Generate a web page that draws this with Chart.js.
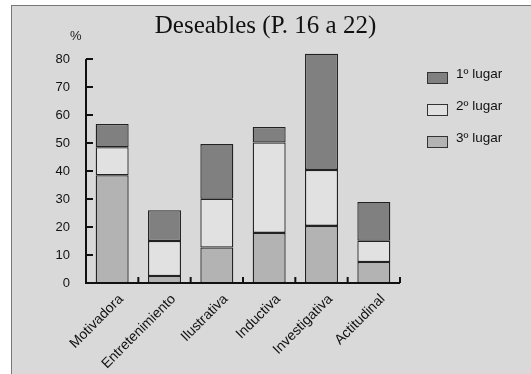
<!DOCTYPE html>
<html>
<head>
<meta charset="utf-8">
<title>Deseables (P. 16 a 22)</title>
<style>
    body {
        margin: 0;
        background: #ffffff;
    }
    #wrap {
        position: relative;
        width: 531px;
        height: 374px;
        overflow: hidden;
    }
    #frame {
        position: absolute;
        left: 11px;
        top: 5px;
        width: 530px;
        height: 380px;
        background: #d9d9d9;
        border: 1px solid #777;
    }
    canvas {
        position: absolute;
        left: 0;
        top: 0;
    }
    #title {
        position: absolute;
        left: 0;
        width: 531px;
        top: 11px;
        text-align: center;
        font-family: "Liberation Serif", "DejaVu Serif", serif;
        font-size: 25px;
        color: #111;
    }
    #pct {
        position: absolute;
        left: 70px;
        top: 28px;
        font-family: "Liberation Sans", Arial, sans-serif;
        font-size: 13px;
        color: #222;
    }
    #legend {
        position: absolute;
        left: 427px;
        top: 66px;
        font-family: "Liberation Sans", Arial, sans-serif;
        font-size: 13.5px;
        color: #111;
    }
    .item {
        height: 32px;
        display: flex;
        align-items: flex-start;
    }
    .box {
        width: 19px;
        height: 10px;
        border: 1px solid #333;
        margin-top: 6px;
        margin-right: 8px;
    }
</style>
<script src="https://cdn.jsdelivr.net/npm/chart.js"></script>
</head>
<body>
<div id="wrap">
    <div id="frame"></div>
    <canvas id="chart" width="531" height="374"></canvas>
    <div id="title">Deseables (P. 16 a 22)</div>
    <div id="pct">%</div>
    <div id="legend"></div>
</div>
<script>
    const categories = ['Motivadora', 'Entretenimiento', 'Ilustrativa', 'Inductiva', 'Investigativa', 'Actitudinal'];
    const tercero = [38.5, 2.5, 12.7, 17.9, 20.4, 7.5];
    const segundo = [10.0, 12.5, 17.4, 32.3, 20.0, 7.6];
    const primero = [8.3, 11.0, 19.5, 5.5, 41.5, 13.8];
    const yTicks = [0, 10, 20, 30, 40, 50, 60, 70, 80];

    const seriesNames = ['1º lugar', '2º lugar', '3º lugar'];
    const seriesColors = ['#808080', '#e1e1e1', '#b3b3b3'];

    // ejes dibujados a mano: linea gruesa y marcas hacia dentro
    const axesPlugin = {
        id: 'axes',
        afterDatasetsDraw(chart) {
            const ctx = chart.ctx;
            const x = chart.scales.x;
            const y = chart.scales.y;
            const y0 = y.getPixelForValue(0);
            const yTop = y.getPixelForValue(80);
            ctx.save();
            ctx.strokeStyle = '#111';
            ctx.lineWidth = 2;
            ctx.beginPath();
            ctx.moveTo(x.left, yTop);
            ctx.lineTo(x.left, y0);
            ctx.lineTo(x.right, y0);
            ctx.stroke();
            ctx.beginPath();
            yTicks.forEach(v => {
                const py = y.getPixelForValue(v);
                ctx.moveTo(x.left, py);
                ctx.lineTo(x.left + 7, py);
            });
            for (let i = 1; i <= categories.length; i++) {
                const px = x.getPixelForValue(i - 0.5);
                ctx.moveTo(px, y0);
                ctx.lineTo(px, y0 - 6);
            }
            ctx.stroke();
            ctx.restore();
        }
    };

    const ctx = document.getElementById('chart').getContext('2d');
    const myChart = new Chart(ctx, {
        type: 'bar',
        data: {
            labels: categories,
            datasets: [
                { label: seriesNames[2], data: tercero, backgroundColor: seriesColors[2] },
                { label: seriesNames[1], data: segundo, backgroundColor: seriesColors[1] },
                { label: seriesNames[0], data: primero, backgroundColor: seriesColors[0] }
            ].map(d => Object.assign(d, {
                borderColor: '#222',
                borderWidth: 1.3,
                borderSkipped: false,
                barPercentage: 0.63,
                categoryPercentage: 1
            }))
        },
        options: {
            responsive: false,
            animation: false,
            layout: { padding: { left: 0, right: 131, top: 45, bottom: 0 } },
            plugins: {
                legend: { display: false },
                tooltip: { enabled: false }
            },
            scales: {
                x: {
                    stacked: true,
                    grid: { display: false },
                    border: { display: false },
                    afterFit(scale) { scale.height = 91; },
                    ticks: {
                        minRotation: 45,
                        maxRotation: 45,
                        color: '#111',
                        padding: 0,
                        labelOffset: 9,
                        font: { family: '"Liberation Sans", Arial, sans-serif', size: 14 }
                    }
                },
                y: {
                    stacked: true,
                    min: 0,
                    max: 85,
                    grid: { display: false },
                    border: { display: false },
                    afterFit(scale) { scale.width = 86; },
                    afterBuildTicks(scale) {
                        scale.ticks = yTicks.map(v => ({ value: v }));
                    },
                    ticks: {
                        color: '#111',
                        padding: 8,
                        font: { family: '"Liberation Sans", Arial, sans-serif', size: 13 }
                    }
                }
            }
        },
        plugins: [axesPlugin]
    });

    // leyenda en HTML a la derecha
    const legend = document.getElementById('legend');
    seriesNames.forEach((name, i) => {
        const item = document.createElement('div');
        item.className = 'item';
        item.innerHTML = '<span class="box" style="background:' + seriesColors[i] + '"></span><span>' + name + '</span>';
        legend.appendChild(item);
    });
</script>
</body>
</html>
